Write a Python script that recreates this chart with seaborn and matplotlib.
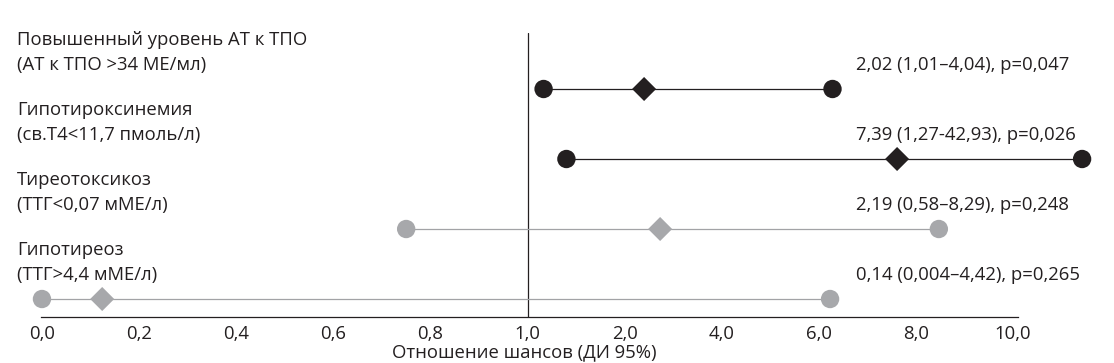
import numpy as np
import pandas as pd
import matplotlib.pyplot as plt
import matplotlib.transforms as mtransforms
import seaborn as sns

# row texts
names = ["Повышенный уровень АТ к ТПО", "Гипотироксинемия", "Тиреотоксикоз", "Гипотиреоз"]
criteria = ["(АТ к ТПО >34 МЕ/мл)", "(св.Т4<11,7 пмоль/л)", "(ТТГ<0,07 мМЕ/л)", "(ТТГ>4,4 мМЕ/л)"]
annot = ["2,02 (1,01–4,04), p=0,047", "7,39 (1,27-42,93), p=0,026",
         "2,19 (0,58–8,29), p=0,248", "0,14 (0,004–4,42), p=0,265"]

or_est = [2.40, 7.61, 2.73, 0.124]
ci_low = [1.165, 1.40, 0.75, 0.0]
ci_high = [6.28, 11.42, 8.47, 6.23]
significant = [True, True, False, False]

tick_vals = [0, 0.2, 0.4, 0.6, 0.8, 1, 2, 4, 6, 8, 10]
tick_labels = ["0,0", "0,2", "0,4", "0,6", "0,8", "1,0", "2,0", "4,0", "6,0", "8,0", "10,0"]

# axis: 0..1 linear over half the width, then 1,2,4,6,8,10 at equal steps
or_pts = [-10, 0, 1, 2, 4, 6, 8, 10, 12, 100]
pos_pts = [-50, 0, 5, 6, 7, 8, 9, 10, 11, 55]


def fwd(x):
    return np.interp(np.asarray(x, float), or_pts, pos_pts)


def inv(y):
    return np.interp(np.asarray(y, float), pos_pts, or_pts)


df = pd.DataFrame({"row": range(4), "est": or_est, "lo": ci_low, "hi": ci_high,
                   "sig": significant})
ends = pd.concat([df[["row", "lo", "sig"]].rename(columns={"lo": "x"}),
                  df[["row", "hi", "sig"]].rename(columns={"hi": "x"})])

sns.set_theme(style="white")
plt.rcParams['font.family'] = ['Open Sans', 'DejaVu Sans']
fontsize = 13.3

BLACK = '#231f20'
GREY = '#a7a8ab'
GREY_LINE = '#a2a3a6'

fig = plt.figure(figsize=(11.14, 3.63), dpi=100)
ax = fig.add_axes([41 / 1114, 46 / 363, 977 / 1114, 284 / 363])

for sig, col, lcol in [(True, BLACK, BLACK), (False, GREY, GREY_LINE)]:
    sub = df[df.sig == sig]
    ax.hlines(sub.row, sub.lo, sub.hi, color=lcol, lw=0.9, clip_on=False, zorder=2)
    sns.scatterplot(data=ends[ends.sig == sig], x="x", y="row", marker="o", s=175,
                    color=col, edgecolor='none', ax=ax, clip_on=False, zorder=3)
    sns.scatterplot(data=sub, x="est", y="row", marker="D", s=150,
                    color=col, edgecolor='none', ax=ax, clip_on=False, zorder=3)

ax.set_xscale('function', functions=(fwd, inv))
ax.set_xlim(-0.002, 10.1)
ax.set_ylim(3.257, -0.8)
ax.axvline(1.0, color=BLACK, lw=0.9, zorder=1)

ax.set_xticks(tick_vals)
ax.set_xticklabels(tick_labels, fontsize=fontsize, color=BLACK)
ax.tick_params(axis='x', length=0, pad=6)
ax.set_yticks([])
for s in ['top', 'right', 'left']:
    ax.spines[s].set_visible(False)
ax.spines['bottom'].set_color(BLACK)
ax.spines['bottom'].set_linewidth(0.9)

ax.set_xlabel("Отношение шансов (ДИ 95%)", fontsize=fontsize, color=BLACK)
ax.xaxis.label.set_va('center')
ax.xaxis.set_label_coords(0.495, -0.125)
ax.set_ylabel("")

trans = mtransforms.blended_transform_factory(fig.transFigure, ax.transData)
for i in range(4):
    ax.text(17 / 1114, i - 0.70, names[i], transform=trans, fontsize=fontsize,
            color=BLACK, va='center', ha='left')
    ax.text(17 / 1114, i - 0.35, criteria[i], transform=trans, fontsize=fontsize,
            color=BLACK, va='center', ha='left')
    ax.text(856 / 1114, i - 0.35, annot[i], transform=trans, fontsize=fontsize,
            color=BLACK, va='center', ha='left')

fig.savefig("out.png", dpi=100)
